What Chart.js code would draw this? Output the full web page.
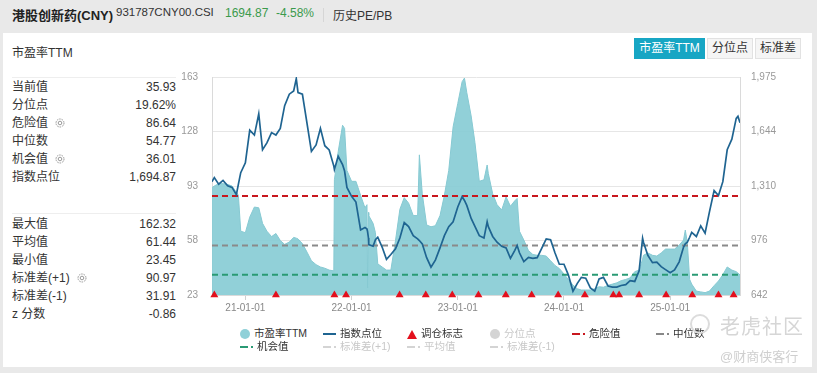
<!DOCTYPE html>
<html>
<head>
<meta charset="utf-8">
<script src="https://cdn.jsdelivr.net/npm/chart.js@4.4.1/dist/chart.umd.min.js"></script>
<style>
  body {
    margin: 0;
    width: 817px;
    height: 373px;
    background: #e9e9e9;
    overflow: hidden;
    position: relative;
    font-family: 'Liberation Sans', 'Noto Sans CJK SC', sans-serif;
    color: #333;
  }
  .abs { position: absolute; white-space: nowrap; }
  .card { position: absolute; left: 3px; top: 33px; width: 809px; height: 334px; background: #fff; }
  .stat-row { position: absolute; left: 12px; width: 164px; height: 18px; line-height: 18px; font-size: 12px; }
  .stat-row .val { position: absolute; right: 0; top: 0; }
  .stat-row svg { vertical-align: -1px; margin-left: 7px; }
  .sep { position: absolute; left: 12px; width: 164px; height: 1px; background: #eee; }
  .btn { position: absolute; top: 38px; height: 21px; line-height: 21px; font-size: 12px; text-align: center; box-sizing: border-box; }
  .btn.on { background: #17a6c4; color: #fff; }
  .btn.off { background: #f5f5f5; color: #333; border: 1px solid #e2e2e2; line-height: 19px; }
  #chartBox { position: absolute; left: 170px; top: 57px; width: 630px; height: 258px; }
  .lg { position: absolute; height: 14px; line-height: 14px; font-size: 10.5px; color: #333; }
  .lg.off { color: #c8c8c8; }
  .mk { display: inline-block; vertical-align: middle; margin-right: 4px; }
</style>
</head>
<body>
  <div class="abs" style="left:12px; top:5px; font-size:13px; font-weight:bold; color:#222;">港股创新药(CNY)</div>
  <div class="abs" style="left:116px; top:6px; font-size:11.5px; color:#333;">931787CNY00.CSI</div>
  <div class="abs" style="left:225px; top:6px; font-size:12px; color:#3b9a4c;">1694.87</div>
  <div class="abs" style="left:276px; top:6px; font-size:12px; color:#3b9a4c;">-4.58%</div>
  <div class="abs" style="left:323px; top:8px; width:1px; height:14px; background:#d6d6d6;"></div>
  <div class="abs" style="left:333px; top:6px; font-size:12px; color:#333;">历史PE/PB</div>

  <div class="card"></div>
  <div class="abs" style="left:12px; top:43px; font-size:12px; color:#333;">市盈率TTM</div>

  <div class="btn on" style="left:634px; width:71px;">市盈率TTM</div>
  <div class="btn off" style="left:707px; width:46px;">分位点</div>
  <div class="btn off" style="left:755px; width:46px;">标准差</div>

  <div class="sep" style="top:77px;"></div>
  <div class="sep" style="top:213px;"></div>
  <div id="stats"></div>

  <div id="chartBox"><canvas id="peChart"></canvas></div>

  <!-- legend -->
  <div class="lg" style="left:240px; top:326px;"><span class="mk" style="width:10px;height:10px;border-radius:50%;background:#8fd0d8;"></span>市盈率TTM</div>
  <div class="lg" style="left:323px; top:326px;"><span class="mk" style="width:13px;height:2px;background:#1f6491;"></span>指数点位</div>
  <div class="lg" style="left:407px; top:326px;"><span class="mk" style="width:0;height:0;border-left:5px solid transparent;border-right:5px solid transparent;border-bottom:9px solid #e3101d;"></span>调仓标志</div>
  <div class="lg off" style="left:490px; top:326px;"><span class="mk" style="width:10px;height:10px;border-radius:50%;background:#d4d4d4;"></span>分位点</div>
  <div class="lg" style="left:572px; top:326px;"><span class="mk" style="width:8px;height:2px;background:#c8171e;margin-right:3px;"></span><span class="mk" style="width:2px;height:2px;background:#c8171e;"></span>危险值</div>
  <div class="lg" style="left:656px; top:326px;"><span class="mk" style="width:8px;height:2px;background:#888;margin-right:3px;"></span><span class="mk" style="width:2px;height:2px;background:#888;"></span>中位数</div>
  <div class="lg" style="left:240px; top:339px;"><span class="mk" style="width:8px;height:2px;background:#2a9a74;margin-right:3px;"></span><span class="mk" style="width:2px;height:2px;background:#2a9a74;"></span>机会值</div>
  <div class="lg off" style="left:323px; top:339px;"><span class="mk" style="width:8px;height:2px;background:#d4d4d4;margin-right:3px;"></span><span class="mk" style="width:2px;height:2px;background:#d4d4d4;"></span>标准差(+1)</div>
  <div class="lg off" style="left:407px; top:339px;"><span class="mk" style="width:8px;height:2px;background:#d4d4d4;margin-right:3px;"></span><span class="mk" style="width:2px;height:2px;background:#d4d4d4;"></span>平均值</div>
  <div class="lg off" style="left:490px; top:339px;"><span class="mk" style="width:8px;height:2px;background:#d4d4d4;margin-right:3px;"></span><span class="mk" style="width:2px;height:2px;background:#d4d4d4;"></span>标准差(-1)</div>

  <!-- watermark -->
  <div class="abs" style="left:690px; top:314px; width:20px; height:20px; border:2px solid #dcdcdc; border-radius:50%; box-sizing:border-box;"></div>
  <div class="abs" style="left:720px; top:311px; font-size:20px; color:#d6d6d6; letter-spacing:1px;">老虎社区</div>
  <div class="abs" style="left:720px; top:346px; font-size:13px; color:#cfcfcf;">@财商侠客行</div>

<script>
const dates = [
  '2020-09-08', '2020-09-16', '2020-10-01', '2020-10-16', '2020-11-01', '2020-11-16', '2020-12-01', '2020-12-08', '2020-12-16',
  '2021-01-01', '2021-01-16', '2021-02-01', '2021-02-16', '2021-03-01', '2021-03-16', '2021-04-01', '2021-04-16',
  '2021-05-01', '2021-05-16', '2021-06-01', '2021-06-16', '2021-06-25', '2021-07-01', '2021-07-16', '2021-08-01',
  '2021-08-16', '2021-09-01', '2021-09-16', '2021-10-01', '2021-10-16', '2021-11-01', '2021-11-03', '2021-11-16',
  '2021-12-01', '2021-12-08', '2021-12-16',
  '2022-01-01', '2022-01-16', '2022-02-01', '2022-02-16', '2022-02-23', '2022-02-25', '2022-02-28', '2022-03-01',
  '2022-03-16', '2022-03-24', '2022-04-01', '2022-04-16', '2022-05-01', '2022-05-16', '2022-06-01', '2022-06-16',
  '2022-07-01', '2022-07-16', '2022-08-01', '2022-08-16', '2022-08-22', '2022-09-01', '2022-09-16', '2022-10-01',
  '2022-10-16', '2022-11-01', '2022-11-16', '2022-12-01', '2022-12-16',
  '2023-01-01', '2023-01-16', '2023-01-24', '2023-02-01', '2023-02-16', '2023-03-01', '2023-03-16', '2023-04-01',
  '2023-04-12', '2023-04-16', '2023-05-01', '2023-05-16', '2023-06-01', '2023-06-16', '2023-07-01', '2023-07-16',
  '2023-07-24', '2023-08-01', '2023-08-16', '2023-09-01', '2023-09-16', '2023-10-01', '2023-10-16', '2023-11-01',
  '2023-11-16', '2023-12-01', '2023-12-16',
  '2024-01-01', '2024-01-16', '2024-02-01', '2024-02-16', '2024-03-01', '2024-03-16', '2024-04-01', '2024-04-16',
  '2024-05-01', '2024-05-16', '2024-06-01', '2024-06-16', '2024-07-01', '2024-07-16', '2024-08-01', '2024-08-16',
  '2024-09-01', '2024-09-16', '2024-09-28', '2024-10-01', '2024-10-16', '2024-11-01', '2024-11-16', '2024-12-01',
  '2024-12-16',
  '2025-01-01', '2025-01-16', '2025-02-01', '2025-02-16', '2025-02-22', '2025-03-01', '2025-03-09', '2025-03-16',
  '2025-04-01', '2025-04-16', '2025-05-01', '2025-05-16', '2025-06-01', '2025-06-16', '2025-07-01', '2025-07-16',
  '2025-08-01', '2025-08-16', '2025-08-22', '2025-08-29'
];

// 市盈率TTM
const peValues = [
  92, 93, 94.5, 94.5, 94, 93, 89, 87, 64,
  63, 73, 79.5, 79, 69, 64, 60.5, 62.5,
  58, 55.5, 57, 60, 59.5, 59, 56, 50.5,
  45, 42.5, 41, 40.2, 39, 38.5, 97, 115,
  132, 130, 103,
  96, 96, 87, 79, 81, 27.5, 76, 74,
  69, 63, 43, 41, 39, 39, 58, 78,
  85.5, 82, 74, 74, 113, 88, 68, 66.8,
  67.5, 74, 87, 103, 131,
  146, 160, 162.3, 153, 138, 121, 96, 97,
  106.5, 101, 88, 81, 77.6, 86, 80, 83.5,
  85, 64, 58.3, 51.5, 49, 48.5, 48.5, 48,
  45, 42, 40,
  36.5, 33, 29.4, 27, 26.2, 26.2, 26.2, 27,
  28.3, 28, 29.2, 30, 30.8, 32.2, 33, 34,
  38, 39, 46, 48.5, 50, 48.5, 48, 50,
  52.5,
  52.5, 52.5, 55, 58.3, 64.7, 56.5, 33, 30,
  25.5, 25, 24.5, 25.5, 29, 32, 36, 41,
  39, 38, 37, 35.93
];

// 指数点位
const indexValues = [
  1335, 1360, 1320, 1343, 1310, 1300, 1255, 1320, 1390,
  1450, 1650, 1620, 1750, 1530, 1572, 1635, 1620,
  1660, 1800, 1870, 1890, 1965, 1880, 1870, 1690,
  1520, 1560, 1661, 1555, 1529, 1430, 1410, 1490,
  1440, 1400, 1300,
  1245, 1210, 1040, 1055, 1045, 1030, 990, 950,
  940, 980, 995, 935, 860, 890, 925, 990,
  1085, 1060, 1005, 985, 975, 955, 870, 812,
  855, 930, 1005, 1060, 1090,
  1180, 1243, 1220, 1190, 1110, 1062, 1005, 990,
  1090, 1060, 1000, 965, 940, 930, 866, 915,
  945, 900, 846, 872, 866, 870, 925, 985,
  980, 900, 830,
  830, 765, 665, 713, 750, 745, 685, 665,
  740, 750, 697, 690, 690, 700, 705, 730,
  725, 790, 989, 965, 885, 840, 843, 815,
  797,
  778, 795, 845, 935, 955, 965, 995, 1025,
  1000, 1065, 1020, 1150, 1280, 1250, 1335, 1530,
  1595, 1722, 1735, 1694.87
];

// 调仓标志
const rebalanceDates = [
  '2020-09-16', '2021-04-16', '2021-11-03', '2021-12-13', '2022-06-15', '2022-09-13', '2022-12-13',
  '2023-03-13', '2023-06-15', '2023-09-12', '2023-12-12', '2024-03-13', '2024-06-19', '2024-07-09',
  '2024-09-16', '2024-12-18', '2025-03-18', '2025-06-16', '2025-08-07'
];

const refNames = ['危险值', '中位数', '机会值'];
const refValues = [86.64, 54.77, 36.01];
const refColors = ['#c8171e', '#8a8a8a', '#2a9a74'];

const peTicks = [23, 58, 93, 128, 163];
const indexMin = 642;
const indexMax = 1975;
const indexTickLabels = ['642', '976', '1,310', '1,644', '1,975'];
const xTickDates = ['2021-01-01', '2022-01-01', '2023-01-01', '2024-01-01', '2025-01-01'];
const xTickLabels = ['21-01-01', '22-01-01', '23-01-01', '24-01-01', '25-01-01'];

const statLabels1 = ['当前值', '分位点', '危险值', '中位数', '机会值', '指数点位'];
const statValues1 = ['35.93', '19.62%', '86.64', '54.77', '36.01', '1,694.87'];
const statLabels2 = ['最大值', '平均值', '最小值', '标准差(+1)', '标准差(-1)', 'z 分数'];
const statValues2 = ['162.32', '61.44', '23.45', '90.97', '31.91', '-0.86'];
const gearRows = ['危险值', '机会值', '标准差(+1)'];

const gear = '<svg width="10" height="10" viewBox="0 0 10 10"><circle cx="5" cy="5" r="4" fill="none" stroke="#999" stroke-width="1" stroke-dasharray="1.6 0.9"/><circle cx="5" cy="5" r="1.8" fill="none" stroke="#999" stroke-width="1"/></svg>';

const statsEl = document.getElementById('stats');
const statRow = (label, value, top) =>
  `<div class="stat-row" style="top:${top}px;">${label}${gearRows.includes(label) ? gear : ''}<span class="val">${value}</span></div>`;
statsEl.insertAdjacentHTML(
  'beforeend',
  statLabels1.map((l, i) => statRow(l, statValues1[i], 78 + i * 17.9)).join('') +
    statLabels2.map((l, i) => statRow(l, statValues2[i], 215 + i * 17.9)).join('')
);

function toYear(s) {
  const [y, m, d] = s.split('-').map(Number);
  const start = Date.UTC(y, 0, 1);
  return y + (Date.UTC(y, m - 1, d) - start) / (Date.UTC(y + 1, 0, 1) - start);
}

const xMin = toYear(dates[0]);
const xMax = toYear(dates[dates.length - 1]);
const tickFont = { family: 'Liberation Sans', size: 10 };

const refDatasets = refValues.map((v, i) => ({
  type: 'line',
  label: refNames[i],
  data: [{ x: xMin, y: v }, { x: xMax, y: v }],
  yAxisID: 'y',
  borderColor: refColors[i],
  borderWidth: 2,
  borderDash: [6, 4],
  pointRadius: 0,
  order: 2,
}));

const ctx = document.getElementById('peChart').getContext('2d');
const peChart = new Chart(ctx, {
  type: 'line',
  data: {
    datasets: [
      {
        label: '指数点位',
        data: dates.map((d, i) => ({ x: toYear(d), y: indexValues[i] })),
        yAxisID: 'y1',
        borderColor: '#1f6491',
        borderWidth: 1.7,
        pointRadius: 0,
        order: 0,
      },
      {
        type: 'scatter',
        label: '调仓标志',
        data: rebalanceDates.map(d => ({ x: toYear(d), y: peTicks[0] })),
        yAxisID: 'y',
        pointStyle: 'triangle',
        pointRadius: 4.6,
        backgroundColor: '#e3101d',
        borderWidth: 0,
        clip: false,
        order: 1,
      },
      ...refDatasets,
      {
        label: '市盈率TTM',
        data: dates.map((d, i) => ({ x: toYear(d), y: peValues[i] })),
        yAxisID: 'y',
        fill: 'start',
        backgroundColor: 'rgba(136, 204, 213, 0.92)',
        borderColor: '#86c9d2',
        borderWidth: 1,
        pointRadius: 0,
        order: 3,
      },
    ],
  },
  options: {
    responsive: true,
    maintainAspectRatio: false,
    animation: false,
    plugins: {
      legend: { display: false },
      tooltip: { enabled: false },
    },
    scales: {
      x: {
        type: 'linear',
        min: xMin,
        max: xMax,
        afterBuildTicks: axis => {
          axis.ticks = xTickDates.map(d => ({ value: toYear(d) }));
        },
        afterFit: axis => {
          axis.height = 20;
        },
        ticks: {
          callback: (v, i) => xTickLabels[i],
          color: '#888',
          font: tickFont,
          padding: 2,
          maxRotation: 0,
        },
        grid: { drawOnChartArea: false, drawTicks: true, tickLength: 5, color: '#d0d0d0' },
        border: { color: '#dadada' },
      },
      y: {
        position: 'left',
        min: peTicks[0],
        max: peTicks[peTicks.length - 1],
        afterBuildTicks: axis => {
          axis.ticks = peTicks.map(v => ({ value: v }));
        },
        afterFit: axis => {
          axis.width = 42;
        },
        ticks: { color: '#999', font: tickFont, padding: 14 },
        grid: { color: '#e6e6e6', drawTicks: false },
        border: { color: '#dadada' },
      },
      y1: {
        position: 'right',
        min: indexMin,
        max: indexMax,
        afterBuildTicks: axis => {
          axis.ticks = indexTickLabels.map((l, i) => ({
            value: indexMin + (i * (indexMax - indexMin)) / (indexTickLabels.length - 1),
          }));
        },
        afterFit: axis => {
          axis.width = 60;
        },
        ticks: {
          callback: (v, i) => indexTickLabels[i],
          color: '#999',
          font: tickFont,
          padding: 11,
        },
        grid: { drawOnChartArea: false, drawTicks: false },
        border: { color: '#dadada' },
      },
    },
  },
});
</script>
</body>
</html>
